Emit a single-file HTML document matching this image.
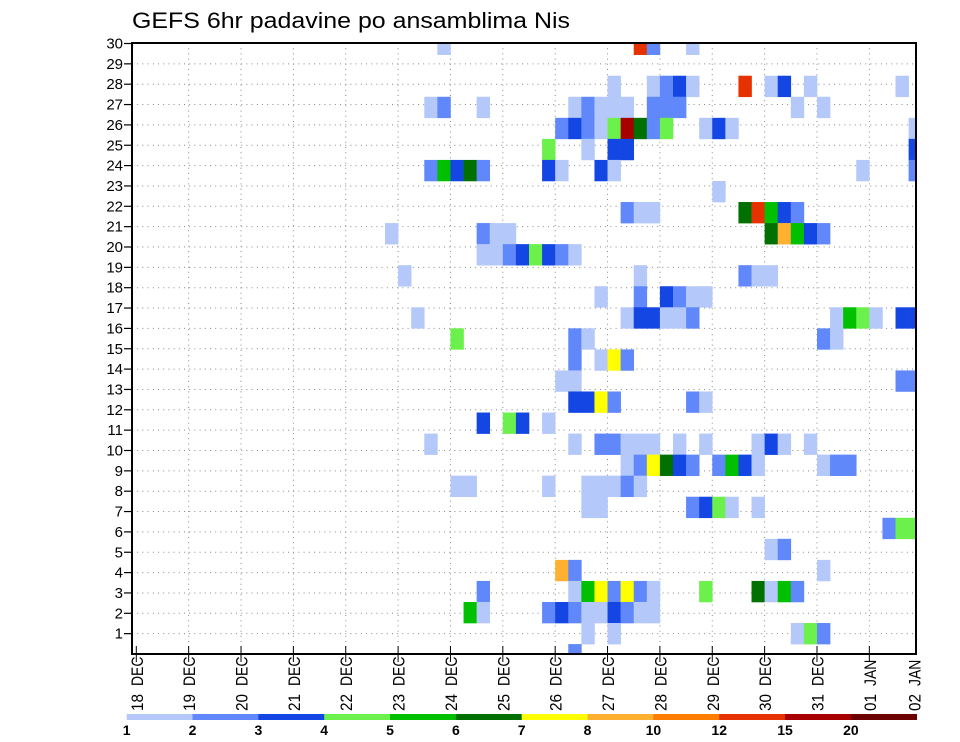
<!DOCTYPE html>
<html><head><meta charset="utf-8"><style>
html,body{margin:0;padding:0;background:#fff;}
svg{display:block;font-family:"Liberation Sans",sans-serif;}
</style></head><body>
<svg id="chart" width="960" height="742" viewBox="0 0 960 742" xmlns="http://www.w3.org/2000/svg">
<text x="132" y="28" font-size="22" textLength="438" lengthAdjust="spacingAndGlyphs" fill="#000">GEFS 6hr padavine po ansamblima Nis</text>
<g id="grid"></g>
<g id="cells"></g>
<rect x="132" y="43" width="784" height="611" fill="none" stroke="#000" stroke-width="2"/>
<g id="yaxis"></g>
<g id="xaxis"></g>
<g id="legend"></g>
</svg>
<script>
// Data: ensemble member, 6-hour step index (from 18 DEC 00z), precipitation value (mm)
const members = [
30,30,30,30,
28,28,28,28,28,28,28,28,28,28,
27,27,27,27,27,27,27,27,27,27,27,27,27,
26,26,26,26,26,26,26,26,26,26,26,26,26,
25,25,25,25,25,
24,24,24,24,24,24,24,24,24,24,24,
23,
22,22,22,22,22,22,22,22,
21,21,21,21,21,21,21,21,21,
20,20,20,20,20,20,20,20,
19,19,19,19,19,
18,18,18,18,18,18,
17,17,17,17,17,17,17,17,17,17,17,17,17,
16,16,16,16,16,
15,15,15,15,
14,14,14,14,
13,13,13,13,13,13,
12,12,12,12,
11,11,11,11,11,11,11,11,11,11,11,11,11,
10,10,10,10,10,10,10,10,10,10,10,10,10,
9,9,9,9,9,9,9,9,
8,8,8,8,8,8,8,
7,7,7,
6,6,
5,5,5,
4,4,4,4,4,4,4,4,4,4,4,4,4,
3,3,3,3,3,3,3,3,3,3,3,
2,2,2,2,2,
1];
const steps = [
23,38,39,42,
36,39,40,41,42,46,48,49,51,58,
22,23,26,33,34,35,36,37,39,40,41,50,52,
32,33,34,35,36,37,38,39,40,43,44,45,59,
31,34,36,37,59,
22,23,24,25,26,31,32,35,36,55,59,
44,
37,38,39,46,47,48,49,50,
19,26,27,28,48,49,50,51,52,
26,27,28,29,30,31,32,33,
20,38,46,47,48,
35,38,40,41,42,43,
21,37,38,39,40,41,42,53,54,55,56,58,59,
24,33,34,52,53,
33,35,36,37,
32,33,58,59,
33,34,35,36,42,43,
26,28,29,31,
22,33,35,36,37,38,39,41,43,47,48,49,51,
37,38,39,40,41,42,44,45,46,47,52,53,54,
24,25,31,34,35,36,37,38,
34,35,42,43,44,45,47,
57,58,59,
48,49,
32,33,52,
26,33,34,35,36,37,38,39,43,47,48,49,50,
25,26,31,32,33,34,35,36,37,38,39,
34,36,50,51,52,
33];
const values = [
1.5,13,2.5,1.5,
1.5,1.5,2.5,3.5,1.5,13,1.5,3.5,1.5,1.5,
1.5,2.5,1.5,1.5,2.5,1.5,1.5,1.5,2.5,2.5,2.5,1.5,1.5,
2.5,3.5,2.5,1.5,4.5,17,6.5,2.5,4.5,1.5,3.5,1.5,1.5,
4.5,1.5,3.5,3.5,3.5,
2.5,5.5,3.5,6.5,2.5,3.5,1.5,3.5,1.5,1.5,2.5,
1.5,
2.5,1.5,1.5,6.5,13,5.5,3.5,2.5,
1.5,2.5,1.5,1.5,6.5,9,5.5,3.5,2.5,
1.5,1.5,2.5,3.5,4.5,3.5,2.5,1.5,
1.5,1.5,2.5,1.5,1.5,
1.5,2.5,3.5,2.5,1.5,1.5,
1.5,1.5,3.5,3.5,1.5,1.5,2.5,1.5,5.5,4.5,1.5,3.5,3.5,
4.5,2.5,1.5,2.5,1.5,
2.5,1.5,7.5,2.5,
1.5,1.5,2.5,2.5,
3.5,3.5,7.5,2.5,2.5,1.5,
3.5,4.5,3.5,1.5,
1.5,1.5,2.5,2.5,1.5,1.5,1.5,1.5,1.5,1.5,3.5,1.5,1.5,
1.5,2.5,7.5,6.5,3.5,2.5,2.5,5.5,3.5,1.5,1.5,2.5,2.5,
1.5,1.5,1.5,1.5,1.5,1.5,2.5,1.5,
1.5,1.5,2.5,3.5,4.5,1.5,1.5,
2.5,4.5,4.5,
1.5,2.5,
9,2.5,1.5,
2.5,1.5,5.5,7.5,2.5,7.5,2.5,1.5,4.5,6.5,1.5,5.5,2.5,
5.5,1.5,2.5,3.5,2.5,1.5,1.5,3.5,2.5,1.5,1.5,
1.5,1.5,1.5,4.5,2.5,
2.5];
const levels = [1,2,3,4,5,6,7,8,10,12,15,20];
const levelColors = ["#b4c8fa","#6088fa","#1446e4","#6cf04c","#00c000","#007000","#ffff00","#ffb030","#ff7d00","#e63200","#a80000","#6c0000"];
const dayLabels = ["18","19","20","21","22","23","24","25","26","27","28","29","30","31","01","02"];
const monthLabels = ["DEC","DEC","DEC","DEC","DEC","DEC","DEC","DEC","DEC","DEC","DEC","DEC","DEC","DEC","JAN","JAN"];
const yTicks = [1,2,3,4,5,6,7,8,9,10,11,12,13,14,15,16,17,18,19,20,21,22,23,24,25,26,27,28,29,30];

const NS = "http://www.w3.org/2000/svg";
const X0 = 136.3, DAYW = 52.36, STEPW = DAYW/4;
function xStep(s){ return X0 + s*STEPW; }
function xDay(d){ return X0 + d*DAYW; }
function yTick(k){ return 654 - k*20.35; }
const CELLH = 21.05;
function yCellCenter(m){ return 654.6 - (m-1)*CELLH; }
function colorFor(v){ let i=0; for(let k=0;k<levels.length;k++){ if(v>=levels[k]) i=k; } return levelColors[i]; }
function mk(tag, attrs, parent){ const e=document.createElementNS(NS,tag); for(const k in attrs) e.setAttribute(k, attrs[k]); parent.appendChild(e); return e; }

// grid
const grid = document.getElementById('grid');
for (let k=1;k<30;k++){
  const l = mk('line',{x1:132,x2:916,y1:yTick(k),y2:yTick(k),stroke:"#888","stroke-width":1,"stroke-dasharray":"1 4.2"},grid);
  
  
}
for (let d=1; d<dayLabels.length-1; d++){
  const l = mk('line',{x1:xDay(d),x2:xDay(d),y1:43,y2:654,stroke:"#888","stroke-width":1,"stroke-dasharray":"1 4.2"},grid);
  
  
}

// cells
const cells = document.getElementById('cells');
const clip = mk('clipPath',{id:"plotclip"},document.getElementById('chart'));
mk('rect',{x:132,y:43,width:784,height:611},clip);
cells.setAttribute('clip-path','url(#plotclip)');
for (let i=0;i<values.length;i++){
  const r = mk('rect',{x:xStep(steps[i]).toFixed(2), y:(yCellCenter(members[i])-CELLH/2).toFixed(2), width:(STEPW+0.3).toFixed(2), height:(CELLH+0.3).toFixed(2), fill:colorFor(values[i])},cells);
  
  
}

// y axis
const ya = document.getElementById('yaxis');
yTicks.forEach(k=>{
  const t = mk('line',{x1:124,x2:132,y1:yTick(k),y2:yTick(k),stroke:"#000","stroke-width":1.2},ya);
  
  
  const tx = mk('text',{x:123,y:yTick(k)+5,"font-size":15,"text-anchor":"end",fill:"#000"},ya);
  tx.textContent = String(k);
  
  
});

// x axis
const xa = document.getElementById('xaxis');
for (let d=0; d<dayLabels.length; d++){
  let x = xDay(d);
  if (d === dayLabels.length-1) x = 914;
  if (d < dayLabels.length-1){
    const t = mk('line',{x1:x,x2:x,y1:646,y2:662,stroke:"#000","stroke-width":1},xa);
    
    
  }
  const tn = mk('text',{x:0,y:0,"font-size":17,fill:"#000",transform:`translate(${(x+6.5).toFixed(1)},711) rotate(-90) scale(0.9,1)`},xa);
  tn.textContent = dayLabels[d];
  
  
  const tm = mk('text',{x:0,y:0,"font-size":17,fill:"#000",transform:`translate(${(x+6.5).toFixed(1)},686) rotate(-90) scale(0.82,1)`},xa);
  tm.textContent = monthLabels[d];
  
  
}

// legend colorbar
const lg = document.getElementById('legend');
const LX0 = 126.7, LW = (916.7-126.7)/levels.length;
for (let i=0;i<levels.length;i++){
  const r = mk('rect',{x:(LX0+i*LW).toFixed(2),y:714,width:(LW+0.3).toFixed(2),height:6,fill:levelColors[i]},lg);
  
  
  const t = mk('text',{x:(LX0+i*LW).toFixed(2),y:735,"font-size":14,"font-weight":"bold","text-anchor":"middle",fill:"#000"},lg);
  t.textContent = String(levels[i]);
  
  
}
</script>
</body></html>
